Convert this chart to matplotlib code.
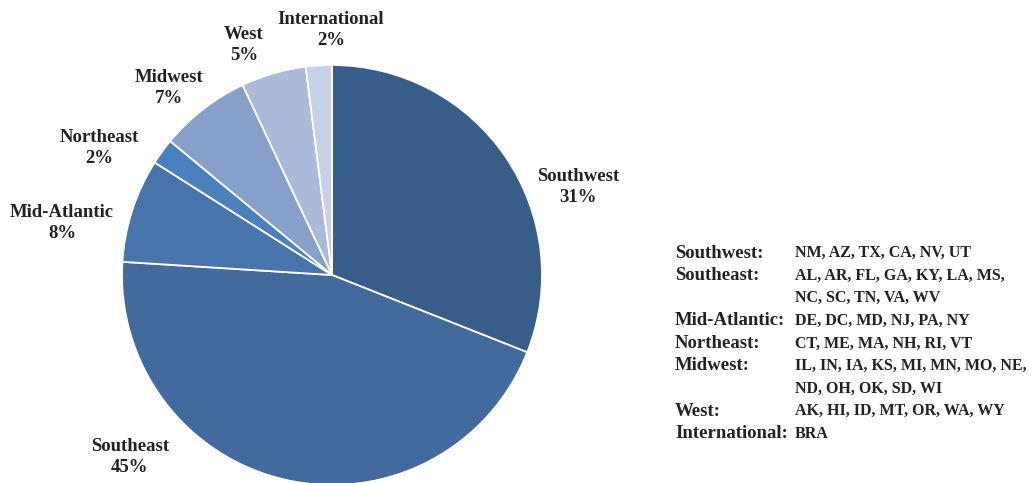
import matplotlib
matplotlib.use("Agg")
import matplotlib.pyplot as plt
import numpy as np

# ----------------------------------------------------------------------------
#  DATA
# ----------------------------------------------------------------------------
regions = ['Southwest', 'Southeast', 'Mid-Atlantic', 'Northeast',
           'Midwest', 'West', 'International']
shares = [31, 45, 8, 2, 7, 5, 2]
colors = ['#375D89', '#426A9C', '#4674AB', '#4A80BE',
          '#86A0C9', '#AABAD8', '#C6D1E6']

legend_names = ['Southwest:', 'Southeast:', '', 'Mid-Atlantic:', 'Northeast:',
                'Midwest:', '', 'West:', 'International:']
legend_states = ['NM, AZ, TX, CA, NV, UT',
                 'AL, AR, FL, GA, KY, LA, MS,',
                 'NC, SC, TN, VA, WV',
                 'DE, DC, MD, NJ, PA, NY',
                 'CT, ME, MA, NH, RI, VT',
                 'IL, IN, IA, KS, MI, MN, MO, NE,',
                 'ND, OH, OK, SD, WI',
                 'AK, HI, ID, MT, OR, WA, WY',
                 'BRA']

# label positions (pie radius units)
label_xy = [(1.171, 0.419), (-0.962, -0.867), (-1.286, 0.248), (-1.110, 0.605),
            (-0.776, 0.890), (-0.419, 1.095), (-0.005, 1.167)]

# ----------------------------------------------------------------------------
#  PLOT
# ----------------------------------------------------------------------------
plt.rcParams['font.family'] = ['Liberation Serif', 'DejaVu Serif']
plt.rcParams['font.weight'] = 'bold'

W, H = 1036, 483
fig = plt.figure(figsize=(W / 100, H / 100), dpi=100)

cx, cy, r = 332, 275, 210
ax = fig.add_axes([(cx - r) / W, (H - cy - r) / H, 2 * r / W, 2 * r / H])
ax.pie(shares, colors=colors, startangle=90, counterclock=False,
       radius=1.0, wedgeprops=dict(edgecolor='white', linewidth=1.3))
ax.set_xlim(-1, 1)
ax.set_ylim(-1, 1)
ax.set_aspect('equal')
ax.axis('off')

for name, val, (lx, ly) in zip(regions, shares, label_xy):
    ax.text(lx, ly, f'{name}\n{val}%', ha='center', va='center',
            fontsize=13.5, fontweight='bold', color='#222222',
            linespacing=1.25, clip_on=False)

# region key on the right
y0, dy = 253, 22.6
for i, (nm, st) in enumerate(zip(legend_names, legend_states)):
    yy = 1 - (y0 + i * dy) / H
    fig.text(675 / W, yy, nm, ha='left', va='center', fontsize=13.5,
             fontweight='bold', color='#222222')
    fig.text(795 / W, yy, st, ha='left', va='center', fontsize=11.5,
             fontweight='bold', color='#222222')

fig.savefig('out.png', dpi=100)
